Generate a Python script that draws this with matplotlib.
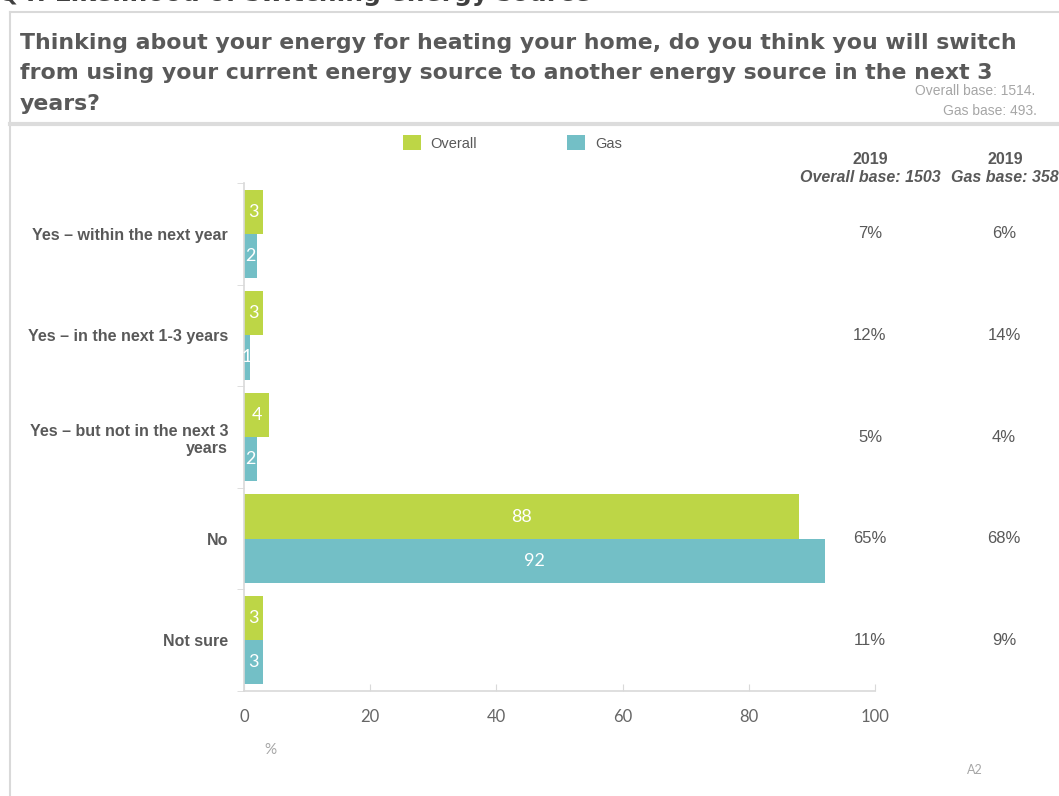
import matplotlib.pyplot as plt
import numpy as np
from matplotlib.lines import Line2D
from matplotlib.transforms import blended_transform_factory

W, H = 1059, 796

# survey answers and 2024 shares (%)
categories = ["Yes \u2013 within the next year", "Yes \u2013 in the next 1-3 years",
              "Yes \u2013 but not in the next 3\nyears", "No", "Not sure"]
overall = [3, 3, 4, 88, 3]
gas = [2, 1, 2, 92, 3]

# 2019 comparison columns
overall_2019 = ["7%", "12%", "5%", "65%", "11%"]
gas_2019 = ["6%", "14%", "4%", "68%", "9%"]

title_lines = ["Thinking about your energy for heating your home, do you think you will switch",
               "from using your current energy source to another energy source in the next 3",
               "years?"]

green = "#bdd646"
teal = "#73bfc6"
grey = "#595959"
light = "#a6a6a6"
rule = "#d9d9d9"

def fx(x):
    return x / W

def fy(y):
    return 1 - y / H

fig = plt.figure(figsize=(W / 100, H / 100), dpi=100)

# section heading, mostly above the top edge
fig.text(fx(-2), fy(1), "Q4. Likelihood of switching energy source", fontsize=18,
         fontweight="bold", color="#404040", family="DejaVu Sans", va="baseline")

# frame around the slide content
fig.add_artist(Line2D([fx(10), fx(10)], [0, fy(12)], color=rule, lw=1.5))
fig.add_artist(Line2D([fx(10), 1], [fy(12), fy(12)], color=rule, lw=1.5))
fig.add_artist(Line2D([fx(10), 1], [fy(124), fy(124)], color="#dcdcdc", lw=3))

for line, base in zip(title_lines, (49, 79, 110)):
    fig.text(fx(20), fy(base), line, fontsize=15.8, fontweight="bold", color=grey,
             family="DejaVu Sans", va="baseline")

narrow = ["Liberation Sans Narrow", "Liberation Sans"]
fig.text(fx(1035), fy(91), "Overall base: 1514.", fontsize=10, color=light, family=narrow,
         ha="right", va="center")
fig.text(fx(1037), fy(111), "Gas base: 493.", fontsize=10, color=light, family=narrow,
         ha="right", va="center")

ax = fig.add_axes([fx(244), fy(691), (875 - 244) / W, (691 - 183) / H])

y = np.arange(len(categories))
h = 0.435
b1 = ax.barh(y - h / 2, overall, height=h, color=green, label="Overall")
b2 = ax.barh(y + h / 2, gas, height=h, color=teal, label="Gas")

for bars, vals in ((b1, overall), (b2, gas)):
    for bar, v in zip(bars, vals):
        t = ax.text(v / 2, bar.get_y() + bar.get_height() / 2, str(v), color="white",
                    fontsize=13, family="Lato", ha="center", va="center")
        t.set_clip_path(bar)

ax.set_xlim(0, 100)
ax.set_ylim(len(categories) - 0.5, -0.5)
ax.set_xticks(np.arange(0, 101, 20))
ax.set_yticks(y)
ax.set_yticklabels(categories, fontsize=11.5, fontweight="bold", color=grey,
                   family="Liberation Sans")
ax.set_yticks(np.arange(-0.5, len(categories)), minor=True)
ax.tick_params(axis="y", which="major", length=0, pad=11.5)
ax.tick_params(axis="y", which="minor", length=5, color=rule, direction="out")
ax.tick_params(axis="x", length=5, color=rule, direction="in", pad=13,
               labelsize=12, labelcolor="#666666")
for lab in ax.get_xticklabels():
    lab.set_family("Lato")
for s in ("top", "right"):
    ax.spines[s].set_visible(False)
for s in ("left", "bottom"):
    ax.spines[s].set_color(rule)
    ax.spines[s].set_linewidth(1.2)

fig.text(fx(270), fy(750), "%", fontsize=11, color=light, family="Lato", ha="center", va="center")

# 2019 comparison columns on the right
tr = blended_transform_factory(fig.transFigure, ax.transData)
for i in range(len(categories)):
    ax.text(fx(870), i, overall_2019[i], transform=tr, fontsize=12, color=grey,
            family="Liberation Sans", ha="center", va="center", clip_on=False)
    ax.text(fx(1004), i, gas_2019[i], transform=tr, fontsize=12, color=grey,
            family="Liberation Sans", ha="center", va="center", clip_on=False)

fig.text(fx(870), fy(160), "2019", fontsize=11.5, fontweight="bold", color=grey,
         family="Liberation Sans", ha="center", va="center")
fig.text(fx(870), fy(178), "Overall base: 1503", fontsize=11.5, fontweight="bold",
         fontstyle="italic", color=grey, family="Liberation Sans", ha="center", va="center")
fig.text(fx(1005), fy(160), "2019", fontsize=11.5, fontweight="bold", color=grey,
         family="Liberation Sans", ha="center", va="center")
fig.text(fx(951), fy(178), "Gas base: 358", fontsize=11.5, fontweight="bold",
         fontstyle="italic", color=grey, family="Liberation Sans", ha="left", va="center")

fig.legend(handles=[b1, b2], loc="center left", bbox_to_anchor=(fx(403), fy(143)),
           ncol=2, frameon=False, labelcolor=grey, handlelength=1.2,
           handleheight=1.2, handletextpad=0.68, columnspacing=6.2, borderpad=0,
           borderaxespad=0, prop={"family": "Liberation Sans", "size": 10.5})

fig.text(fx(975), fy(770), "A2", fontsize=9, color=light, family="Lato", ha="center", va="center")

fig.savefig("out.png", dpi=100)
